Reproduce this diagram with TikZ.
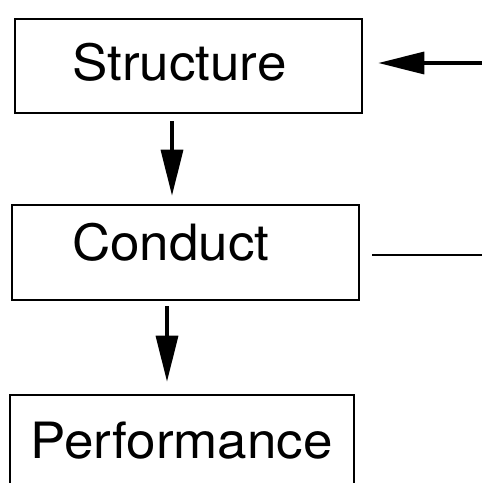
\documentclass[tikz,border=0pt]{standalone}
\usepackage{fontspec}
\setmainfont{TeX Gyre Heros}[FakeStretch=1.06]
\usetikzlibrary{arrows.meta}
\tikzset{
  box/.style={draw, line width=2.6pt, inner sep=0pt},
  label text/.style={anchor=base west, inner sep=0pt, font=\fontsize{50}{60}\selectfont},
  arr/.style={line width=3.4pt, -{Triangle[length=46pt,width=22pt]}},
  plain/.style={line width=2.8pt}
}
\begin{document}
\begin{tikzpicture}[x=1pt,y=-1pt]
  \clip (0,0) rectangle (482,483);
  % boxes
  \node[box, minimum width=347pt, minimum height=94pt] (s) at (188.5,66) {};
  \node[box, minimum width=347pt, minimum height=95pt] (c) at (185.5,252.5) {};
  \node[box, minimum width=344pt, minimum height=110pt] (p) at (182,450) {};
  % labels
  \node[label text] (st) at (72,80) {Structure};
  \node[label text] (ct) at (72,260) {Conduct};
  \node[label text] (pt) at (30,458) {Performance};
  % helper coordinates
  \coordinate (x1) at (172,0);
  \coordinate (x2) at (167,0);
  \coordinate (rin) at (482,63);
  \coordinate (rout) at (482,255);
  % connectors
  \draw[arr, shorten <=7pt, shorten >=8pt] (s.south -| x1) -- (c.north -| x1);
  \draw[arr, shorten <=5pt, shorten >=12pt] (c.south -| x2) -- (p.north -| x2);
  \draw[arr, shorten >=15pt] (rin) -- (rin -| s.east);
  \draw[plain, shorten <=12pt] (rout -| c.east) -- (rout);
\end{tikzpicture}
\end{document}
